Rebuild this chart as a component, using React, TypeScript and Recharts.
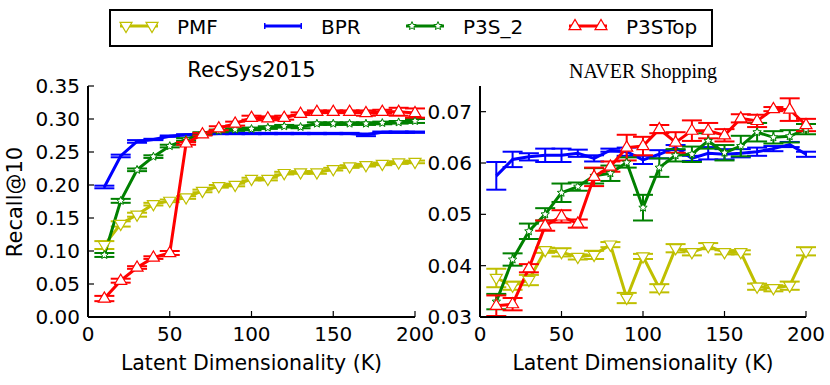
import React from "react";
import { LineChart, Line, XAxis, YAxis, ErrorBar } from "recharts";

const K = [10, 20, 30, 40, 50, 60, 70, 80, 90, 100, 110, 120, 130, 140, 150, 160, 170, 180, 190, 200];

// RecSys2015
const recPMF = [0.109, 0.141, 0.155, 0.171, 0.176, 0.181, 0.191, 0.198, 0.2, 0.209, 0.209, 0.218, 0.219, 0.219, 0.224, 0.228, 0.23, 0.232, 0.234, 0.235];
const recPMFErr = [0.006, 0.004, 0.003, 0.002, 0.002, 0.002, 0.002, 0.002, 0.002, 0.002, 0.002, 0.002, 0.002, 0.002, 0.002, 0.002, 0.002, 0.002, 0.002, 0.002];
const recBPR = [0.197, 0.244, 0.266, 0.269, 0.274, 0.276, 0.277, 0.278, 0.278, 0.278, 0.278, 0.278, 0.278, 0.278, 0.278, 0.278, 0.276, 0.28, 0.28, 0.28];
const recBPRErr = [0.002, 0.002, 0.002, 0.001, 0.001, 0.001, 0.001, 0.001, 0.001, 0.001, 0.001, 0.001, 0.001, 0.001, 0.001, 0.001, 0.002, 0.001, 0.001, 0.001];
const recP3S = [0.094, 0.176, 0.223, 0.243, 0.259, 0.269, 0.278, 0.282, 0.284, 0.285, 0.287, 0.289, 0.288, 0.293, 0.293, 0.293, 0.293, 0.294, 0.295, 0.297];
const recP3SErr = [0.003, 0.003, 0.002, 0.002, 0.002, 0.002, 0.002, 0.002, 0.002, 0.002, 0.002, 0.002, 0.002, 0.002, 0.002, 0.002, 0.002, 0.002, 0.002, 0.003];
const recTop = [0.028, 0.055, 0.075, 0.09, 0.097, 0.263, 0.277, 0.286, 0.293, 0.302, 0.301, 0.302, 0.308, 0.311, 0.311, 0.311, 0.309, 0.311, 0.311, 0.309];
const recTopErr = [0.004, 0.003, 0.002, 0.002, 0.003, 0.002, 0.002, 0.003, 0.003, 0.003, 0.003, 0.003, 0.002, 0.002, 0.002, 0.002, 0.004, 0.003, 0.006, 0.007];

// NAVER Shopping
const navPMF = [0.0376, 0.0361, 0.0372, 0.043, 0.0426, 0.0417, 0.0421, 0.0441, 0.0337, 0.0418, 0.0356, 0.0434, 0.0426, 0.0438, 0.0426, 0.0426, 0.0359, 0.0356, 0.0361, 0.0428];
const navPMFErr = [0.0018, 0.0008, 0.001, 0.0005, 0.0008, 0.0005, 0.0008, 0.0005, 0.001, 0.0005, 0.0008, 0.0008, 0.0006, 0.0006, 0.0004, 0.0004, 0.0006, 0.0006, 0.0008, 0.0008];
const navBPR = [0.0575, 0.0607, 0.0612, 0.0615, 0.0615, 0.0619, 0.0609, 0.0625, 0.0622, 0.0606, 0.0617, 0.063, 0.0609, 0.0619, 0.0617, 0.0619, 0.0622, 0.0628, 0.0636, 0.0617];
const navBPRErr = [0.0027, 0.0015, 0.0007, 0.0013, 0.0013, 0.0007, 0.0006, 0.0003, 0.0008, 0.0008, 0.0008, 0.0005, 0.0005, 0.0012, 0.001, 0.0008, 0.0008, 0.0005, 0.0005, 0.0005];
const navP3S = [0.033, 0.0412, 0.0467, 0.05, 0.0542, 0.0554, 0.0575, 0.058, 0.0601, 0.0513, 0.0591, 0.0615, 0.0617, 0.0643, 0.062, 0.0633, 0.066, 0.065, 0.0652, 0.0666];
const navP3SErr = [0.0015, 0.0012, 0.0015, 0.0012, 0.0018, 0.0008, 0.0015, 0.0015, 0.001, 0.0025, 0.0018, 0.0012, 0.0015, 0.0015, 0.0015, 0.002, 0.0018, 0.0012, 0.0012, 0.001];
const navTop = [0.0322, 0.0325, 0.0395, 0.0478, 0.0496, 0.0482, 0.0573, 0.0593, 0.063, 0.0633, 0.0666, 0.064, 0.0663, 0.0663, 0.0654, 0.0687, 0.0682, 0.0705, 0.0704, 0.0674];
const navTopErr = [0.002, 0.0012, 0.0008, 0.001, 0.0012, 0.0008, 0.0018, 0.001, 0.0025, 0.0018, 0.0008, 0.002, 0.002, 0.0015, 0.0012, 0.0008, 0.0012, 0.0004, 0.0022, 0.0012];

const recTicks = [0, 0.05, 0.1, 0.15, 0.2, 0.25, 0.3, 0.35];
const navTicks = [0.03, 0.04, 0.05, 0.06, 0.07];
const xTicks = [0, 50, 100, 150, 200];

const YEL = "#bfbf00";
const BLU = "#0000ff";
const GRN = "#008000";
const RED = "#ff0000";
const FONT = "'DejaVu Sans', sans-serif";

function rows(pmf: number[], pmfE: number[], bpr: number[], bprE: number[], p3s: number[], p3sE: number[], top: number[], topE: number[]) {
  return K.map((k, i) => ({
    k,
    pmf: pmf[i], pmfE: pmfE[i],
    bpr: bpr[i], bprE: bprE[i],
    p3s: p3s[i], p3sE: p3sE[i],
    top: top[i], topE: topE[i],
  }));
}

const triDownPath = (cx: number, cy: number, s: number) =>
  `M${cx - s},${cy - s * 0.6} L${cx + s},${cy - s * 0.6} L${cx},${cy + s * 1.1} Z`;
const triUpPath = (cx: number, cy: number, s: number) =>
  `M${cx - s},${cy + s * 0.6} L${cx + s},${cy + s * 0.6} L${cx},${cy - s * 1.1} Z`;

function starPath(cx: number, cy: number, r: number) {
  let d = "";
  for (let i = 0; i < 10; i++) {
    const rr = i % 2 === 0 ? r : r * 0.45;
    const a = -Math.PI / 2 + (i * Math.PI) / 5;
    d += `${i === 0 ? "M" : "L"}${cx + rr * Math.cos(a)},${cy + rr * Math.sin(a)} `;
  }
  return d + "Z";
}

const triDown = (p: any) => {
  const { cx, cy, index } = p;
  if (cx == null || cy == null) return <g key={index} />;
  return <path key={index} d={triDownPath(cx, cy, 6)} fill="#fff" stroke={YEL} strokeWidth={1.2} />;
};

const triUp = (p: any) => {
  const { cx, cy, index } = p;
  if (cx == null || cy == null) return <g key={index} />;
  return <path key={index} d={triUpPath(cx, cy, 6)} fill="#fff" stroke={RED} strokeWidth={1.2} />;
};

const star = (p: any) => {
  const { cx, cy, index } = p;
  if (cx == null || cy == null) return <g key={index} />;
  return <path key={index} d={starPath(cx, cy, 4.4)} fill="#fff" stroke={GRN} strokeWidth={1} />;
};

const tickStyle = { fill: "#000", fontSize: 20, fontFamily: FONT };

function Panel({ data, domain, ticks, width, yWidth, right }: { data: any[]; domain: [number, number]; ticks: number[]; width: number; yWidth: number; right: number }) {
  return (
    <LineChart width={width} height={385} data={data} margin={{ top: 86, right, bottom: 0, left: 0 }}>
      <XAxis dataKey="k" type="number" domain={[0, 200]} ticks={xTicks} height={68}
        axisLine={{ stroke: "#000", strokeWidth: 2 }} tickLine={{ stroke: "#000", strokeWidth: 1.2 }}
        tickSize={-6} tickMargin={16} tick={tickStyle}
        label={{ value: "Latent Dimensionality (K)", position: "insideBottom", offset: 15, fill: "#000", fontSize: 20.5, fontFamily: FONT }} />
      <XAxis xAxisId="top" orientation="top" dataKey="k" type="number" domain={[0, 200]} ticks={xTicks} height={0}
        axisLine={{ stroke: "#000", strokeWidth: 2 }} tickLine={{ stroke: "#000", strokeWidth: 1.2 }} tickSize={-6} tick={false} />
      <YAxis type="number" domain={domain} ticks={ticks} allowDataOverflow width={yWidth}
        axisLine={{ stroke: "#000", strokeWidth: 2 }} tickLine={{ stroke: "#000", strokeWidth: 1.2 }}
        tickSize={-6} tickMargin={14} tick={tickStyle} tickFormatter={(v: number) => v.toFixed(2)} />
      <YAxis yAxisId="r" orientation="right" type="number" domain={domain} ticks={ticks} allowDataOverflow width={0}
        axisLine={{ stroke: "#000", strokeWidth: 2 }} tickLine={{ stroke: "#000", strokeWidth: 1.2 }} tickSize={-6} tick={false} />
      <Line dataKey="pmf" type="linear" stroke={YEL} strokeWidth={3} dot={triDown} isAnimationActive={false}>
        <ErrorBar dataKey="pmfE" direction="y" width={10} stroke={YEL} strokeWidth={2} />
      </Line>
      <Line dataKey="bpr" type="linear" stroke={BLU} strokeWidth={3} dot={false} isAnimationActive={false}>
        <ErrorBar dataKey="bprE" direction="y" width={10} stroke={BLU} strokeWidth={2} />
      </Line>
      <Line dataKey="p3s" type="linear" stroke={GRN} strokeWidth={3} dot={star} isAnimationActive={false}>
        <ErrorBar dataKey="p3sE" direction="y" width={10} stroke={GRN} strokeWidth={2} />
      </Line>
      <Line dataKey="top" type="linear" stroke={RED} strokeWidth={3} dot={triUp} isAnimationActive={false}>
        <ErrorBar dataKey="topE" direction="y" width={10} stroke={RED} strokeWidth={2} />
      </Line>
    </LineChart>
  );
}

type Marker = "down" | "up" | "star" | "none";

function Handle({ color, marker }: { color: string; marker: Marker }) {
  const ends = [6, 32];
  return (
    <svg width={40} height={20} style={{ position: "absolute", left: 0, top: 0, overflow: "visible" }}>
      <line x1={0} y1={10} x2={38} y2={10} stroke={color} strokeWidth={3} />
      {marker === "none" && [0.75, 37.25].map((x) => (
        <line key={x} x1={x} y1={7} x2={x} y2={13} stroke={color} strokeWidth={1.5} />
      ))}
      {ends.map((x) => (
        <g key={x}>
          {marker === "down" && <path d={triDownPath(x, 10, 6)} fill="#fff" stroke={color} strokeWidth={1.2} />}
          {marker === "up" && <path d={triUpPath(x, 10, 6)} fill="#fff" stroke={color} strokeWidth={1.2} />}
          {marker === "star" && <path d={starPath(x, 10, 4.4)} fill="#fff" stroke={color} strokeWidth={1} />}
        </g>
      ))}
    </svg>
  );
}

const legendItems: { label: string; color: string; marker: Marker; x: number }[] = [
  { label: "PMF", color: YEL, marker: "down", x: 9 },
  { label: "BPR", color: BLU, marker: "none", x: 153 },
  { label: "P3S_2", color: GRN, marker: "star", x: 295 },
  { label: "P3STop", color: RED, marker: "up", x: 458 },
];

export default function App() {
  const recData = rows(recPMF, recPMFErr, recBPR, recBPRErr, recP3S, recP3SErr, recTop, recTopErr);
  const navData = rows(navPMF, navPMFErr, navBPR, navBPRErr, navP3S, navP3SErr, navTop, navTopErr);
  return (
    <div style={{ position: "absolute", left: 0, top: 0, width: 830, height: 385, background: "#fff", fontFamily: FONT, overflow: "hidden" }}>
      <div style={{ position: "absolute", left: 0, top: 0 }}>
        <Panel data={recData} domain={[0, 0.35]} ticks={recTicks} width={440} yWidth={88} right={25} />
      </div>
      <div style={{ position: "absolute", left: 420, top: 0 }}>
        <Panel data={navData} domain={[0.03, 0.075]} ticks={navTicks} width={410} yWidth={60} right={24} />
      </div>
      <div style={{ position: "absolute", left: 88, width: 327, top: 60, lineHeight: 1, textAlign: "center", fontSize: 21, fontFamily: FONT }}>RecSys2015</div>
      <div style={{ position: "absolute", left: 480, width: 326, top: 61, lineHeight: 1, textAlign: "center", fontSize: 20, fontFamily: "'Liberation Serif', serif" }}>NAVER Shopping</div>
      <div style={{ position: "absolute", left: 15, top: 202, lineHeight: 1, transform: "translate(-50%, -50%) rotate(-90deg)", fontSize: 21, fontFamily: FONT, whiteSpace: "nowrap" }}>Recall@10</div>
      <div style={{ position: "absolute", left: 109, top: 9, width: 600, height: 34, border: "2px solid #000" }}>
        {legendItems.map((it) => (
          <div key={it.label} style={{ position: "absolute", left: it.x, top: 5, height: 20 }}>
            <Handle color={it.color} marker={it.marker} />
            <span style={{ position: "absolute", left: 57, top: 1, lineHeight: 1, fontSize: 20, fontFamily: FONT, whiteSpace: "nowrap" }}>{it.label}</span>
          </div>
        ))}
      </div>
    </div>
  );
}
